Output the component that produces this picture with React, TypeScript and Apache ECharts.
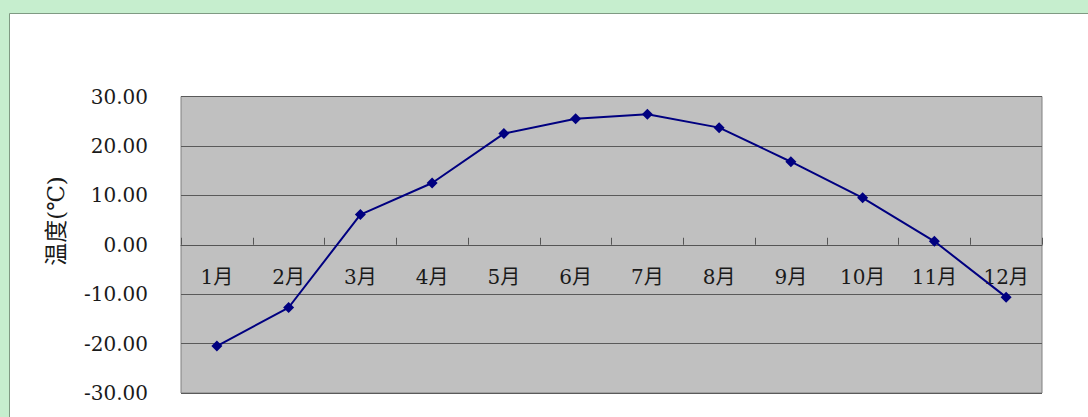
import React, { useEffect, useRef } from "react";
import * as echarts from "echarts";

const months = ["1月", "2月", "3月", "4月", "5月", "6月", "7月", "8月", "9月", "10月", "11月", "12月"];
const temperatures = [-20.5, -12.7, 6.1, 12.5, 22.5, 25.5, 26.4, 23.7, 16.8, 9.5, 0.7, -10.6];
const yAxisName = "温度(℃)";
const yMin = -30;
const yMax = 30;
const yInterval = 10;

const FONT = "'DejaVu Serif', 'Liberation Serif', 'Noto Sans CJK SC', serif";
const GRID_TOP = 96.5;
const GRID_HEIGHT = 296.5;

export default function App() {
  const ref = useRef<HTMLDivElement>(null);
  useEffect(() => {
    if (!ref.current) return;
    const chart = echarts.init(ref.current, null, { renderer: "svg" });
    chart.setOption({
      animation: false,
      backgroundColor: "#C6EECE",
      graphic: [
        {
          type: "rect",
          shape: { x: 9.5, y: 13.5, width: 1100, height: 420 },
          style: { fill: "#FFFFFF", stroke: "#7F9A83", lineWidth: 1 },
          z: -10,
          silent: true,
        },
        {
          type: "text",
          x: 56,
          y: 221,
          rotation: Math.PI / 2,
          style: {
            text: yAxisName,
            font: `23px ${FONT}`,
            fill: "#1a1a1a",
            align: "center",
            verticalAlign: "middle",
          },
        },
      ],
      grid: {
        left: 181,
        top: GRID_TOP,
        width: 861,
        height: GRID_HEIGHT,
        containLabel: false,
        outerBoundsMode: "none",
        show: true,
        backgroundColor: "#C0C0C0",
        borderColor: "#808080",
        borderWidth: 1,
      },
      xAxis: {
        type: "category",
        data: months,
        boundaryGap: true,
        position: "bottom",
        offset: -GRID_HEIGHT * ((0 - yMin) / (yMax - yMin)),
        axisLine: { show: true, onZero: false, lineStyle: { color: "#555555", width: 1 } },
        axisTick: { show: true, inside: true, length: 7, alignWithLabel: false, lineStyle: { color: "#555555" } },
        axisLabel: {
          color: "#1a1a1a",
          fontSize: 20,
          fontFamily: FONT,
          margin: 22,
        },
        splitLine: { show: false },
      },
      yAxis: {
        type: "value",
        min: yMin,
        max: yMax,
        interval: yInterval,
        axisLine: { show: false },
        axisTick: { show: false },
        axisLabel: {
          color: "#1a1a1a",
          fontSize: 20,
          fontFamily: FONT,
          margin: 33,
          formatter: (v: number) => v.toFixed(2),
        },
        splitLine: { show: true, lineStyle: { color: "#5a5a5a", width: 1 } },
      },
      series: [
        {
          type: "line",
          data: temperatures,
          symbol: "diamond",
          symbolSize: 11,
          lineStyle: { color: "#000080", width: 2 },
          itemStyle: { color: "#000080" },
        },
      ],
    });
    return () => chart.dispose();
  }, []);
  return (
    <div
      ref={ref}
      style={{ position: "fixed", left: 0, top: 0, width: 1088, height: 417 }}
    />
  );
}
